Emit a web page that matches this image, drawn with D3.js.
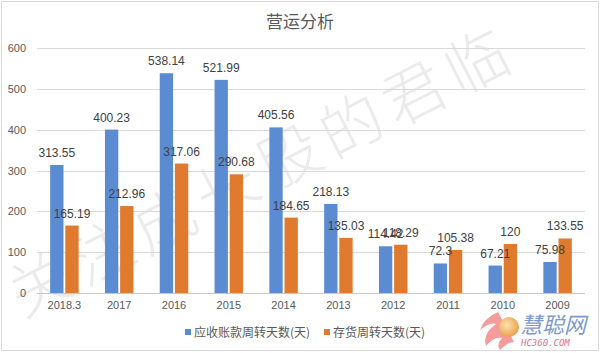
<!DOCTYPE html>
<html>
<head>
<meta charset="utf-8">
<script src="https://cdn.jsdelivr.net/npm/d3@7"></script>
<style>
  body { margin: 0; background: #fff; }
  #chart { width: 600px; height: 353px; }
</style>
</head>
<body>
<div id="chart"></div>
<script>
// data
const years = ["2018.3", "2017", "2016", "2015", "2014", "2013", "2012", "2011", "2010", "2009"];
const receivableDays = [313.55, 400.23, 538.14, 521.99, 405.56, 218.13, 114.42, 72.3, 67.21, 75.98];
const inventoryDays = [165.19, 212.96, 317.06, 290.68, 184.65, 135.03, 118.29, 105.38, 120, 133.55];
const seriesNames = ["应收账款周转天数(天)", "存货周转天数(天)"];
const yTicks = [0, 100, 200, 300, 400, 500, 600];

const colors = ["#5b8bd0", "#e07a2e"];
const cjk = "'Noto Sans CJK SC', 'Microsoft YaHei', sans-serif";
const num = "'Liberation Sans', Arial, sans-serif";

const W = 600, H = 353;
const svg = d3.select("#chart").append("svg")
    .attr("width", W)
    .attr("height", H);

svg.append("rect")
    .attr("width", W).attr("height", H)
    .attr("fill", "#fff");

// watermark
const wm = svg.append("g")
    .attr("transform", "translate(262,172) rotate(-27)");
wm.append("text")
    .attr("text-anchor", "middle")
    .attr("dy", "0.35em")
    .style("font-family", cjk)
    .style("font-weight", 300)
    .style("font-size", "62px")
    .style("letter-spacing", "8px")
    .attr("fill", "#ebebeb")
    .text("关注成长股的君临");

// frame
svg.append("rect")
    .attr("x", 1.5).attr("y", 1.5)
    .attr("width", W - 3).attr("height", H - 4)
    .attr("fill", "none")
    .attr("stroke", "#d9d9d9");

const x = d3.scaleBand()
    .domain(years)
    .range([37, 585])
    .paddingInner(0.48)
    .paddingOuter(0.24);

const xs = d3.scaleBand()
    .domain([0, 1])
    .range([0, x.bandwidth()])
    .paddingInner(0.12);

const y = d3.scaleLinear()
    .domain([0, 600])
    .range([293, 48]);

// gridlines
svg.append("g")
    .selectAll("line")
    .data(yTicks)
    .join("line")
    .attr("x1", 37).attr("x2", 585)
    .attr("y1", d => Math.round(y(d)) + 0.5)
    .attr("y2", d => Math.round(y(d)) + 0.5)
    .attr("stroke", d => d === 0 ? "#c8c8c8" : "#d9d9d9");

// y axis labels
const yAxis = svg.append("g")
    .attr("transform", "translate(37,0)")
    .call(d3.axisLeft(y).tickValues(yTicks).tickSize(0).tickPadding(11));
yAxis.select(".domain").remove();
yAxis.selectAll("text")
    .style("font-family", num)
    .style("font-size", "11px")
    .attr("fill", "#595959");

// x axis labels
const xAxis = svg.append("g")
    .attr("transform", "translate(0,293)")
    .call(d3.axisBottom(x).tickSize(0).tickPadding(8));
xAxis.select(".domain").remove();
xAxis.selectAll("text")
    .style("font-family", num)
    .style("font-size", "11px")
    .attr("fill", "#595959");

const series = [receivableDays, inventoryDays];

series.forEach((vals, s) => {
    const g = svg.append("g");
    g.selectAll("rect")
        .data(vals)
        .join("rect")
        .attr("x", (d, i) => x(years[i]) + xs(s))
        .attr("y", d => y(d))
        .attr("width", xs.bandwidth())
        .attr("height", d => y(0) - y(d))
        .attr("fill", colors[s]);
});

// value labels
series.forEach((vals, s) => {
    svg.append("g")
        .selectAll("text")
        .data(vals)
        .join("text")
        .attr("x", (d, i) => x(years[i]) + xs(s) + xs.bandwidth() / 2)
        .attr("y", d => y(d) - 8)
        .attr("text-anchor", "middle")
        .style("font-family", num)
        .style("font-size", "12px")
        .attr("fill", "#404040")
        .text(d => d);
});

// title
svg.append("text")
    .attr("x", 300)
    .attr("y", 28)
    .attr("text-anchor", "middle")
    .style("font-family", cjk)
    .style("font-size", "17px")
    .attr("fill", "#595959")
    .text("营运分析");

// legend
const legendX = [185, 324];
seriesNames.forEach((name, s) => {
    svg.append("rect")
        .attr("x", legendX[s]).attr("y", 329)
        .attr("width", 6).attr("height", 6)
        .attr("fill", colors[s]);
    svg.append("text")
        .attr("x", legendX[s] + 9)
        .attr("y", 336.5)
        .style("font-family", cjk)
        .style("font-size", "12px")
        .attr("fill", "#595959")
        .text(name);
});

// HC360 logo
const logo = svg.append("g");
const grad = svg.append("defs").append("radialGradient")
    .attr("id", "ball").attr("cx", "40%").attr("cy", "40%").attr("r", "60%");
grad.append("stop").attr("offset", "0%").attr("stop-color", "#fbe3b0");
grad.append("stop").attr("offset", "100%").attr("stop-color", "#eea24c");
logo.append("path")
    .attr("d", "M 498 312 Q 484 318 480 330 Q 490 322 496 324 Q 482 334 486 346 Q 494 336 502 338 Q 496 344 500 350 Q 508 342 514 342 Z")
    .attr("fill", "#f28b8b")
    .attr("opacity", 0.85);
logo.append("circle")
    .attr("cx", 509).attr("cy", 327).attr("r", 10)
    .attr("fill", "url(#ball)");
logo.append("text")
    .attr("x", 520).attr("y", 333)
    .style("font-family", cjk)
    .style("font-size", "22px")
    .style("font-style", "italic")
    .attr("fill", "#7d9acb")
    .text("慧聪网");
logo.append("text")
    .attr("x", 521).attr("y", 346)
    .style("font-family", "'DejaVu Sans Mono', monospace")
    .style("font-size", "9px")
    .style("font-style", "italic")
    .attr("fill", "#e0708a")
    .text("HC360.COM");
</script>
</body>
</html>
